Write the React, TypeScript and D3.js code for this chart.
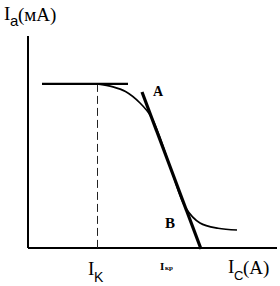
import React from 'react'
import * as d3 from 'd3'

// Ic (A) / Ia (mA) in arbitrary chart units
const curveIc = [2.76, 3.4, 3.9, 4.48, 4.93, 5.73, 6.31, 6.88, 7.6, 8.36]
const curveIa = [7.74, 7.6, 7.38, 6.84, 6.18, 3.68, 1.89, 1.18, 0.93, 0.85]
const flatIc = [0.56, 4.0]
const flatIa = [7.74, 7.74]
const tangentIc = [4.56, 6.92]
const tangentIa = [7.36, -0.05]
const Ik = 2.76
const Ikp = 6.92

const W = 280
const H = 286

export default function App() {
  const x = d3.scaleLinear().domain([0, 10]).range([28, 278])
  const y = d3.scaleLinear().domain([0, 10]).range([248, 36])

  const line = d3.line<[number, number]>()
    .x(d => x(d[0]))
    .y(d => y(d[1]))
  const curve = d3.line<[number, number]>()
    .x(d => x(d[0]))
    .y(d => y(d[1]))
    .curve(d3.curveCatmullRom.alpha(0.5))

  const zip = (a: number[], b: number[]) => a.map((v, i) => [v, b[i]] as [number, number])
  const xk = Math.round(x(Ik)) + 0.5

  return (
    <svg width={W} height={H} style={{ position: 'absolute', left: 0, top: 0, background: '#fff' }}
      fontFamily="'Liberation Serif', serif">
      {/* axes */}
      <line x1={x(0)} y1={y(10)} x2={x(0)} y2={y(0)} stroke="#000" strokeWidth={2} />
      <line x1={x(0)} y1={y(0)} x2={277} y2={y(0)} stroke="#000" strokeWidth={2} />

      {/* flat section */}
      <path d={line(zip(flatIc, flatIa)) || ''} stroke="#000" strokeWidth={2.2} fill="none" />

      {/* dashed Ik */}
      <line x1={xk} y1={y(flatIa[0])} x2={xk} y2={y(0)} stroke="#222" strokeWidth={1}
        strokeDasharray="8 4" />

      {/* characteristic */}
      <path d={curve(zip(curveIc, curveIa)) || ''} stroke="#000" strokeWidth={1.7} fill="none" />

      {/* tangent */}
      <path d={line(zip(tangentIc, tangentIa)) || ''} stroke="#000" strokeWidth={3.2} fill="none" />

      {/* labels */}
      <text x={153} y={96} fontSize={14} fontWeight="bold">A</text>
      <text x={165} y={228} fontSize={15} fontWeight="bold">B</text>

      <text x={4} y={20} fontSize={19}>I</text>
      <text x={10} y={26} fontSize={15} fontFamily="'Liberation Sans', sans-serif">a</text>
      <text x={18} y={21} fontSize={19}>(мА)</text>

      <text x={x(Ik) - 9} y={275} fontSize={19}>I</text>
      <text x={x(Ik) - 3} y={282} fontSize={14} fontFamily="'Liberation Sans', sans-serif">K</text>

      <text x={x(Ikp) - 41} y={270} fontSize={11} fontWeight="bold">I</text>
      <text x={x(Ikp) - 36} y={270} fontSize={7} fontWeight="bold">кр</text>

      <text x={228} y={273} fontSize={19}>I</text>
      <text x={234} y={280} fontSize={13} fontFamily="'Liberation Sans', sans-serif">C</text>
      <text x={243} y={274} fontSize={19}>(A)</text>
    </svg>
  )
}
